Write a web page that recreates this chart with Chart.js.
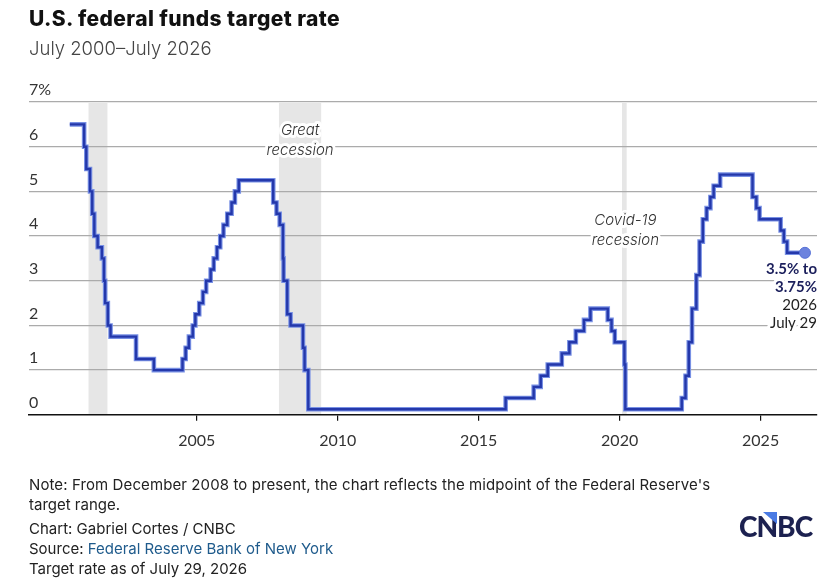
<!DOCTYPE html>
<html>
<head>
<meta charset="utf-8">
<script src="https://cdn.jsdelivr.net/npm/chart.js@4.4.1/dist/chart.umd.min.js"></script>
<style>
  html, body { margin: 0; padding: 0; background: #fff; }
  body { width: 834px; height: 581px; position: relative; overflow: hidden; font-family: Inter, Lato, sans-serif; }
  #wrap { position: absolute; left: 0; top: 0; width: 834px; height: 581px; }
  .title { position: absolute; left: 29px; top: 6px; font-size: 21px; font-weight: 800; color: #111; letter-spacing: 0.4px; }
  .sub { position: absolute; left: 29px; top: 37px; font-size: 18.5px; font-weight: 300; color: #444; }
  .foot { position: absolute; left: 29px; font-size: 15px; color: #222; white-space: nowrap; }
  .foot a { color: #1f5b8c; text-decoration: none; }
  .logo { position: absolute; left: 739px; top: 509px; font-family: Lato, sans-serif; font-size: 28px; font-weight: 900; color: #1c2150; letter-spacing: -1px; }
  .tri { position: absolute; left: 763px; top: 512px; width: 14px; height: 12px; background: #4a7be4; clip-path: polygon(0 0, 100% 0, 100% 100%); }
</style>
</head>
<body>
<div id="wrap"><canvas id="rate-chart" width="834" height="581"></canvas></div>
<div class="title">U.S. federal funds target rate</div>
<div class="sub">July 2000–July 2026</div>
<div class="foot" style="top:475px; letter-spacing:0.1px">Note: From December 2008 to present, the chart reflects the midpoint of the Federal Reserve's</div>
<div class="foot" style="top:495px">target range.</div>
<div class="foot" style="top:519px">Chart: Gabriel Cortes / CNBC</div>
<div class="foot" style="top:539px">Source: <a>Federal Reserve Bank of New York</a></div>
<div class="foot" style="top:559px">Target rate as of July 29, 2026</div>
<div class="logo">CNBC</div>
<div class="tri"></div>
<script>
// 목표금리 변경일 / 변경 후 금리 (2008-12 이후는 범위 중간값)
const changeDates = [
    '2000-07-01', '2001-01-03', '2001-01-31', '2001-03-20', '2001-04-18', '2001-05-15',
    '2001-06-27', '2001-08-21', '2001-09-17', '2001-10-02', '2001-11-06', '2001-12-11',
    '2002-11-06', '2003-06-25', '2004-06-30', '2004-08-10', '2004-09-21', '2004-11-10',
    '2004-12-14', '2005-02-02', '2005-03-22', '2005-05-03', '2005-06-30', '2005-08-09',
    '2005-09-20', '2005-11-01', '2005-12-13', '2006-01-31', '2006-03-28', '2006-05-10',
    '2006-06-29', '2007-09-18', '2007-10-31', '2007-12-11', '2008-01-22', '2008-01-30',
    '2008-03-18', '2008-04-30', '2008-10-08', '2008-10-29', '2008-12-16', '2015-12-16',
    '2016-12-14', '2017-03-15', '2017-06-14', '2017-12-13', '2018-03-21', '2018-06-13',
    '2018-09-26', '2018-12-19', '2019-07-31', '2019-09-18', '2019-10-30', '2020-03-03',
    '2020-03-15', '2022-03-16', '2022-05-04', '2022-06-15', '2022-07-27', '2022-09-21',
    '2022-11-02', '2022-12-14', '2023-02-01', '2023-03-22', '2023-05-03', '2023-07-26',
    '2024-09-18', '2024-11-07', '2024-12-18', '2025-09-17', '2025-10-29', '2025-12-10',
    '2026-07-29'
];
const targetRates = [
    6.5, 6.0, 5.5, 5.0, 4.5, 4.0,
    3.75, 3.5, 3.0, 2.5, 2.0, 1.75,
    1.25, 1.0, 1.25, 1.5, 1.75, 2.0,
    2.25, 2.5, 2.75, 3.0, 3.25, 3.5,
    3.75, 4.0, 4.25, 4.5, 4.75, 5.0,
    5.25, 4.75, 4.5, 4.25, 3.5, 3.0,
    2.25, 2.0, 1.5, 1.0, 0.125, 0.375,
    0.625, 0.875, 1.125, 1.375, 1.625, 1.875,
    2.125, 2.375, 2.125, 1.875, 1.625, 1.125,
    0.125, 0.375, 0.875, 1.625, 2.375, 3.125,
    3.875, 4.375, 4.625, 4.875, 5.125, 5.375,
    4.875, 4.625, 4.375, 4.125, 3.875, 3.625,
    3.625
];

const recessionStarts = ['2001-03-01', '2007-12-01', '2020-02-01'];
const recessionEnds = ['2001-11-01', '2009-06-01', '2020-04-01'];
const recessionLabels = [null, ['Great', 'recession'], ['Covid-19', 'recession']];

const xTickYears = [2005, 2010, 2015, 2020, 2025];
const yTickValues = [0, 1, 2, 3, 4, 5, 6, 7];
const endLabel = ['3.5% to', '3.75%', '2026', 'July 29'];

// 날짜 문자열 -> 소수 연도
function toYear(s) {
    const d = new Date(s + 'T00:00:00Z');
    const y = d.getUTCFullYear();
    const start = Date.UTC(y, 0, 1);
    const next = Date.UTC(y + 1, 0, 1);
    return y + (d.getTime() - start) / (next - start);
}

const points = changeDates.map((d, i) => ({ x: toYear(d), y: targetRates[i] }));
const lastIdx = points.length - 1;

const FONT = 'Lato, "Noto Sans", sans-serif';
const LABEL_FONT = 'Inter, Lato, sans-serif';

function haloText(ctx, text, x, y) {
    ctx.lineWidth = 6;
    ctx.lineJoin = 'round';
    ctx.strokeStyle = '#fff';
    ctx.strokeText(text, x, y);
    ctx.fillText(text, x, y);
}

// 경기침체 음영 (그리드 아래)
const recessionBands = {
    id: 'recessionBands',
    beforeDraw(chart) {
        const { ctx, chartArea, scales } = chart;
        ctx.save();
        ctx.fillStyle = '#e6e6e6';
        recessionStarts.forEach((s, i) => {
            const x0 = scales.x.getPixelForValue(toYear(s));
            const x1 = scales.x.getPixelForValue(toYear(recessionEnds[i]));
            ctx.fillRect(x0, chartArea.top + 1, x1 - x0, chartArea.bottom - chartArea.top - 1);
        });
        ctx.restore();
    }
};

// 라벨: 경기침체 이름 + 마지막 값
const chartLabels = {
    id: 'chartLabels',
    afterDatasetsDraw(chart) {
        const { ctx, scales } = chart;
        ctx.save();
        ctx.textBaseline = 'middle';
        ctx.textAlign = 'center';
        ctx.font = 'italic 300 15px ' + LABEL_FONT;
        ctx.fillStyle = '#333';
        recessionLabels.forEach((lines, i) => {
            if (!lines) return;
            const cx = (scales.x.getPixelForValue(toYear(recessionStarts[i])) +
                        scales.x.getPixelForValue(toYear(recessionEnds[i]))) / 2;
            const rows = i === 1 ? [130, 150] : [220, 240];
            lines.forEach((t, j) => haloText(ctx, t, cx + (i === 2 ? 1 : 0), rows[j]));
        });

        ctx.textAlign = 'right';
        const rx = chart.chartArea.right;
        const ys = [269, 287, 305, 323];
        endLabel.forEach((t, j) => {
            ctx.font = (j < 2 ? 'bold ' : '') + '15px ' + FONT;
            ctx.fillStyle = j < 2 ? '#1b1f5c' : '#222';
            haloText(ctx, t, rx, ys[j]);
        });
        ctx.restore();
    }
};

const rateChart = new Chart(document.getElementById('rate-chart').getContext('2d'), {
    type: 'line',
    data: {
        datasets: [
            {
                label: 'Target rate',
                data: points,
                stepped: true,
                borderColor: '#2438ab',
                borderWidth: 2.4,
                pointRadius: ctx => (ctx.dataIndex === lastIdx ? 5.5 : 0),
                pointBackgroundColor: '#6c83de',
                pointBorderColor: '#5570d6',
                pointBorderWidth: 1,
                fill: false,
                order: 1,
            },
            {
                label: 'halo',
                data: points,
                stepped: true,
                borderColor: '#7890e4',
                borderWidth: 4.6,
                pointRadius: 0,
                fill: false,
                order: 2,
            },
        ]
    },
    options: {
        responsive: false,
        animation: false,
        layout: { padding: { left: 29, right: 17, top: 102, bottom: 121 } },
        scales: {
            x: {
                type: 'linear',
                min: 1999.05,
                max: 2027.0,
                afterBuildTicks: scale => { scale.ticks = xTickYears.map(v => ({ value: v })); },
                ticks: {
                    callback: v => String(v),
                    font: { family: FONT, size: 16 },
                    color: '#333',
                    padding: 10,
                    maxRotation: 0,
                    autoSkip: false,
                },
                grid: { drawOnChartArea: false, drawTicks: true, tickLength: 6, color: '#111', lineWidth: 1.2 },
                border: { display: true, color: '#111', width: 1.5 },
            },
            y: {
                min: 0,
                max: 7,
                afterBuildTicks: scale => { scale.ticks = yTickValues.map(v => ({ value: v })); },
                ticks: {
                    mirror: true,
                    padding: 0,
                    labelOffset: -12,
                    callback: v => (v === 7 ? '7%' : String(v)),
                    font: { family: FONT, size: 16 },
                    color: '#333',
                },
                grid: {
                    drawTicks: false,
                    color: c => (c.tick && c.tick.value === 0 ? 'rgba(0,0,0,0)' : '#ababab'),
                    lineWidth: 1.3,
                },
                border: { display: false },
            }
        },
        plugins: {
            legend: { display: false },
            tooltip: { enabled: false },
        }
    },
    plugins: [recessionBands, chartLabels]
});
</script>
</body>
</html>
